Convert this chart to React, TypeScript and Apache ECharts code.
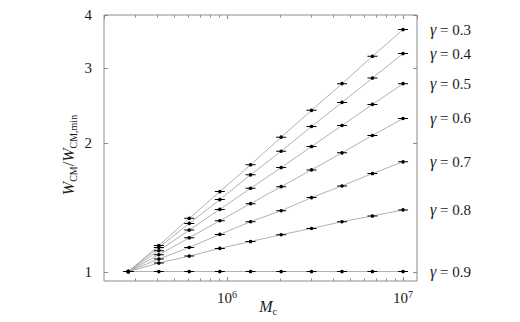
import { useEffect, useRef } from 'react';
import * as echarts from 'echarts';

// ---- data ----
const massValues = [2.75e5, 4.1e5, 6.1e5, 9.1e5, 1.36e6, 2.03e6, 3.02e6, 4.5e6, 6.7e6, 1.0e7];
const gammaNames = ['γ = 0.3', 'γ = 0.4', 'γ = 0.5', 'γ = 0.6', 'γ = 0.7', 'γ = 0.8', 'γ = 0.9'];
const wGamma03 = [1, 1.151, 1.333, 1.54, 1.78, 2.067, 2.389, 2.76, 3.2, 3.698];
const wGamma04 = [1, 1.139, 1.297, 1.475, 1.686, 1.916, 2.19, 2.494, 2.845, 3.248];
const wGamma05 = [1, 1.119, 1.251, 1.399, 1.568, 1.754, 1.965, 2.202, 2.467, 2.76];
const wGamma06 = [1, 1.095, 1.2, 1.316, 1.443, 1.582, 1.732, 1.899, 2.086, 2.287];
const wGamma07 = [1, 1.07, 1.139, 1.222, 1.309, 1.389, 1.491, 1.588, 1.698, 1.809];
const wGamma08 = [1, 1.047, 1.087, 1.133, 1.176, 1.22, 1.262, 1.309, 1.35, 1.395];
const wGamma09 = [1, 1, 1, 1, 1, 1, 1, 1, 1, 1];
const xMinorTickValues = [3e5, 4e5, 5e5, 6e5, 7e5, 8e5, 9e5, 2e6, 3e6, 4e6, 5e6, 6e6, 7e6, 8e6, 9e6];
const yTickValues = [1, 2, 3, 4];
const xMin = 2e5;
const xMax = 1.2e7;
const yMin = 0.95;
const yMax = 4;

const allSeries = [wGamma03, wGamma04, wGamma05, wGamma06, wGamma07, wGamma08, wGamma09];

const FONT = 'Liberation Serif';
const FRAME = '#8a8a8a';
const LINE = '#a8a8a8';
const TEXT = '#1a1a1a';

const markerPath = 'path://M0,1.3H10V2.3H0Z M5,0A1.8,1.8 0 1 1 4.99,0Z';

export default function App() {
  const ref = useRef<HTMLDivElement>(null);

  useEffect(() => {
    document.body.style.margin = '0';
    if (!ref.current) return;
    const chart = echarts.init(ref.current, undefined, { renderer: 'svg' });

    const lineSeries = allSeries.map((vals, i) => ({
      type: 'line',
      name: gammaNames[i],
      data: massValues.map((m, j) => [m, vals[j]]),
      symbol: markerPath,
      symbolSize: [10, 3.6],
      showAllSymbol: true,
      itemStyle: { color: '#000' },
      lineStyle: { color: LINE, width: 0.9 },
      z: 3,
      endLabel: {
        show: true,
        formatter: (p: any) => `{g|${p.seriesName.slice(0, 1)}}{t|${p.seriesName.slice(1)}}`,
        distance: 27,
        align: 'left',
        verticalAlign: 'middle',
        rich: {
          g: { fontFamily: FONT, fontSize: 16, fontStyle: 'italic', color: TEXT, lineHeight: 18, verticalAlign: 'middle' },
          t: { fontFamily: FONT, fontSize: 15, color: TEXT, lineHeight: 18, verticalAlign: 'middle' },
        },
      },
    }));

    const xMinorSeries = {
      type: 'custom',
      clip: false,
      silent: true,
      data: xMinorTickValues.map((v) => [v, yMin]),
      renderItem: (params: any, api: any) => {
        const cs = params.coordSys;
        const p = api.coord([api.value(0), yMin]);
        const x = Math.round(p[0]) + 0.5;
        const bottom = cs.y + cs.height;
        return {
          type: 'group',
          children: [
            { type: 'line', shape: { x1: x, y1: bottom, x2: x, y2: bottom - 2.5 }, style: { stroke: FRAME, lineWidth: 1 } },
            { type: 'line', shape: { x1: x, y1: cs.y, x2: x, y2: cs.y + 2.5 }, style: { stroke: FRAME, lineWidth: 1 } },
          ],
        };
      },
    };

    const yTickSeries = {
      type: 'custom',
      clip: false,
      silent: true,
      data: yTickValues.map((v) => [xMin, v]),
      renderItem: (params: any, api: any) => {
        const cs = params.coordSys;
        const v = api.value(1);
        const p = api.coord([xMin, v]);
        const y = Math.round(p[1]) + 0.5;
        const right = cs.x + cs.width;
        return {
          type: 'group',
          children: [
            { type: 'line', shape: { x1: cs.x, y1: y, x2: cs.x + 4, y2: y }, style: { stroke: FRAME, lineWidth: 1 } },
            { type: 'line', shape: { x1: right, y1: y, x2: right - 4, y2: y }, style: { stroke: FRAME, lineWidth: 1 } },
            {
              type: 'text',
              style: {
                x: cs.x - 12,
                y: p[1],
                text: String(v),
                align: 'right',
                verticalAlign: 'middle',
                fontFamily: FONT,
                fontSize: 15,
                fill: TEXT,
              },
            },
          ],
        };
      },
    };

    const powerLabel = (v: number) => {
      const l = Math.log10(v);
      const e = Math.round(l);
      if (Math.abs(l - e) > 1e-6) return '';
      return `{b|10}{s|${e}}`;
    };

    chart.setOption({
      animation: false,
      grid: {
        left: 104,
        right: 103,
        top: 15,
        bottom: 41,
        outerBoundsMode: 'none',
        containLabel: false,
        show: true,
        borderColor: FRAME,
        borderWidth: 1,
        backgroundColor: 'transparent',
      },
      graphic: [
        {
          type: 'text',
          x: 68,
          y: 155,
          rotation: Math.PI / 2,
          style: {
            text: '{w|W}{sub|CM}{r|/}{w|W}{sub|CM,min}',
            align: 'center',
            verticalAlign: 'middle',
            rich: {
              w: { fontFamily: FONT, fontSize: 16, fontStyle: 'italic', fill: TEXT, lineHeight: 20, verticalAlign: 'middle' },
              r: { fontFamily: FONT, fontSize: 16, fill: TEXT, lineHeight: 20, verticalAlign: 'middle' },
              sub: { fontFamily: FONT, fontSize: 10, fill: TEXT, lineHeight: 10, verticalAlign: 'bottom' },
            },
          },
        },
        {
          type: 'text',
          x: 268,
          y: 306,
          style: {
            text: '{i|M}{sub|c}',
            align: 'center',
            verticalAlign: 'middle',
            rich: {
              i: { fontFamily: FONT, fontSize: 16, fontStyle: 'italic', fill: TEXT, lineHeight: 20, verticalAlign: 'middle' },
              sub: { fontFamily: FONT, fontSize: 10, fill: TEXT, lineHeight: 10, verticalAlign: 'bottom' },
            },
          },
        },
      ],
      xAxis: [
        {
          type: 'log',
          logBase: 10,
          min: xMin,
          max: xMax,
          axisLine: { show: false },
          splitLine: { show: false },
          axisTick: { show: true, inside: true, length: 4, lineStyle: { color: FRAME } },
          axisLabel: {
            margin: 8,
            showMinLabel: false,
            showMaxLabel: false,
            formatter: powerLabel,
            rich: {
              b: { fontFamily: FONT, fontSize: 15, color: TEXT, lineHeight: 18, verticalAlign: 'middle' },
              s: { fontFamily: FONT, fontSize: 10, color: TEXT, lineHeight: 10, verticalAlign: 'top' },
            },
          },
        },
        {
          type: 'log',
          logBase: 10,
          position: 'top',
          min: xMin,
          max: xMax,
          axisLine: { show: false },
          splitLine: { show: false },
          axisTick: { show: true, inside: true, length: 4, lineStyle: { color: FRAME } },
          axisLabel: { show: false },
        },
      ],
      yAxis: {
        type: 'log',
        logBase: 10,
        min: yMin,
        max: yMax,
        axisLine: { show: false },
        splitLine: { show: false },
        axisTick: { show: false },
        axisLabel: { show: false },
      },
      series: [xMinorSeries, yTickSeries, ...lineSeries],
    });

    return () => chart.dispose();
  }, []);

  return <div ref={ref} style={{ width: 520, height: 322 }} />;
}
